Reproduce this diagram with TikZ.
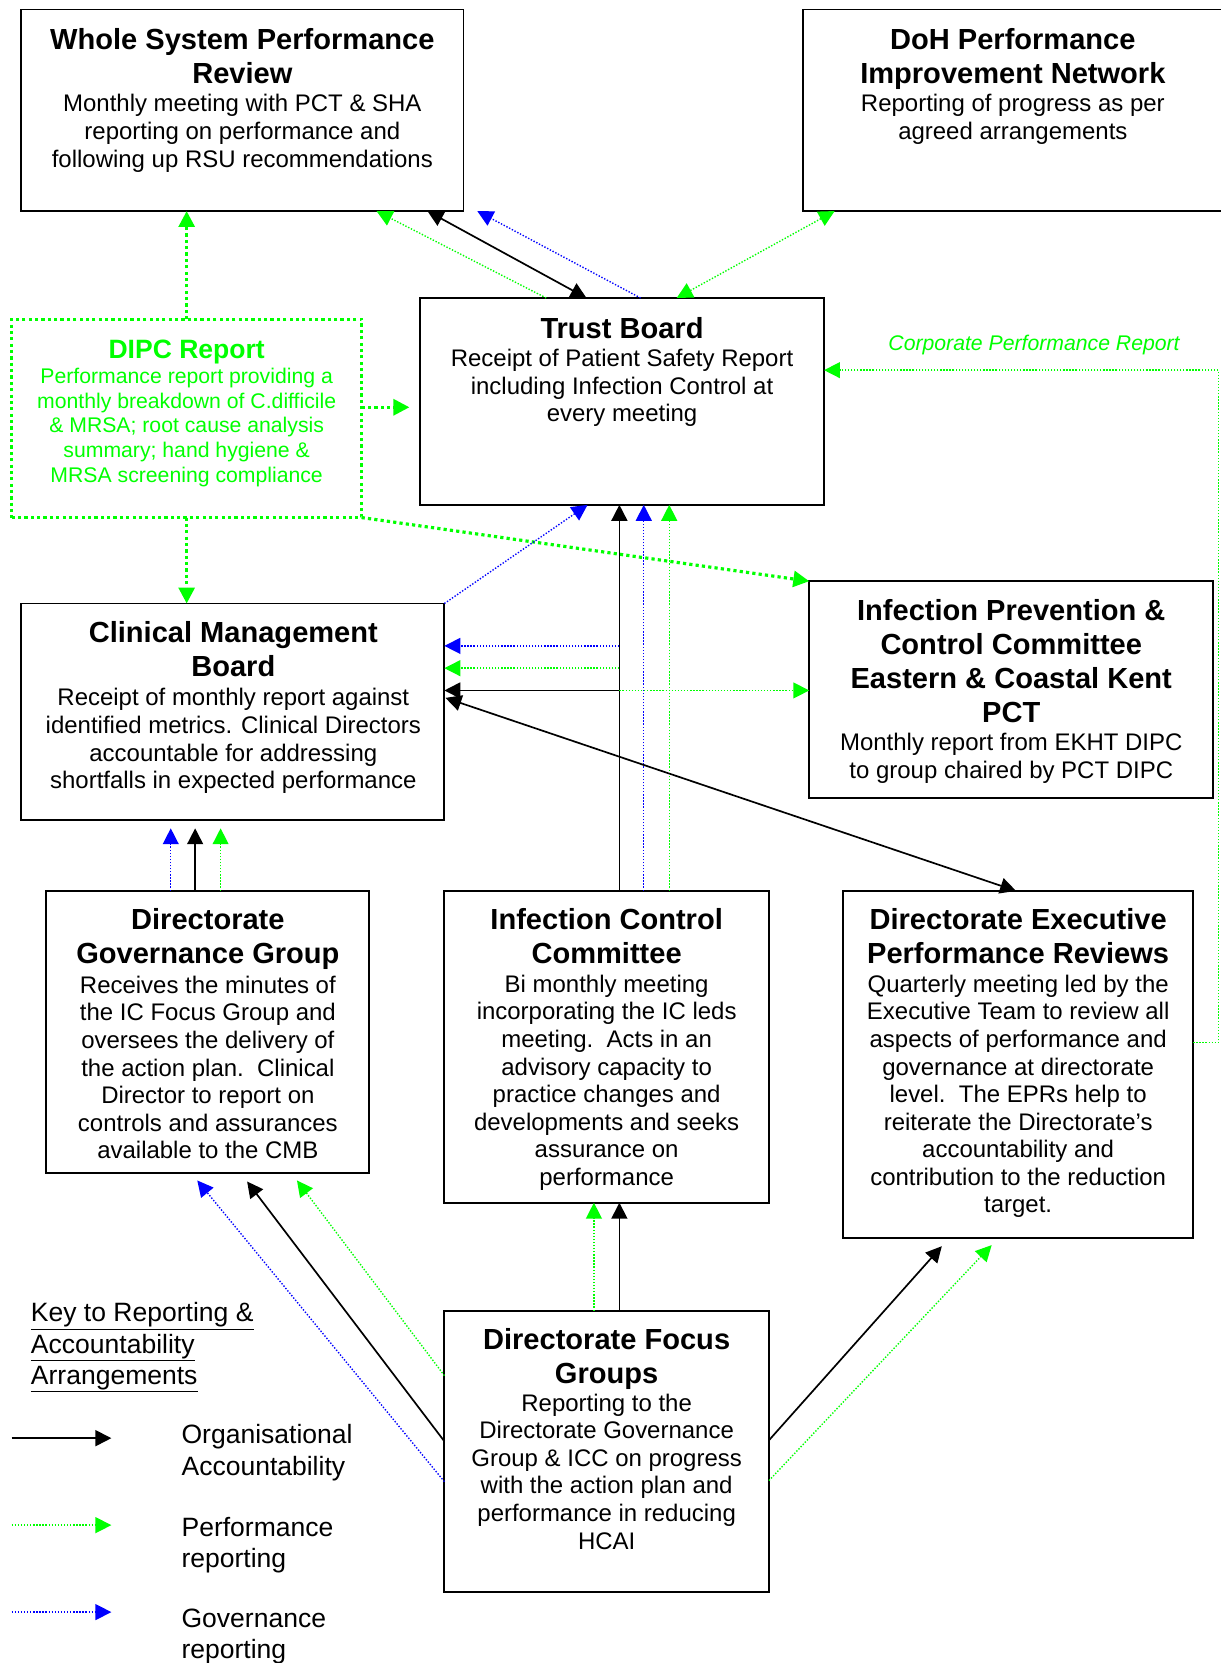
\documentclass[tikz,border=0pt]{standalone}
\usepackage{fontspec}
\setmainfont{Liberation Sans}
\usetikzlibrary{arrows.meta,calc}
\definecolor{perfgreen}{RGB}{0,255,0}
\definecolor{govblue}{RGB}{0,0,255}
\begin{document}
\begin{tikzpicture}[x=1pt,y=-1pt,
  box/.style={draw=black,line width=1.8pt,inner sep=0pt,outer sep=0pt},
  dipcbox/.style={draw=perfgreen,line width=3pt,dash pattern=on 3pt off 3pt,inner sep=0pt,outer sep=0pt},
  ttl/.style={anchor=north,align=center,inner sep=0pt,font=\fontsize{27.4}{32}\selectfont\bfseries},
  bdy/.style={anchor=north,align=center,inner sep=0pt,font=\fontsize{22.6}{26}\selectfont},
  keytext/.style={anchor=north west,align=left,inner sep=0pt,font=\fontsize{25}{29.5}\selectfont},
  tip/.style={-{Triangle[length=15pt,width=15pt]}},
  tips/.style={{Triangle[length=15pt,width=15pt]}-{Triangle[length=15pt,width=15pt]}},
  org/.style={draw=black,line width=1.6pt},
  perf/.style={draw=perfgreen,line width=1.3pt,dash pattern=on 1.3pt off 1.6pt},
  gov/.style={draw=govblue,line width=1.3pt,dash pattern=on 1.3pt off 1.6pt},
  dipcline/.style={draw=perfgreen,line width=3pt,dash pattern=on 3pt off 3pt},
]
\useasboundingbox (0,0) rectangle (1151,1568);

% ---------- boxes ----------
\node[box,minimum width=417pt,minimum height=190pt] (wspr) at (228.5,104) {};
\node[box,minimum width=398pt,minimum height=190pt] (doh)  at (956,104) {};
\node[box,minimum width=381pt,minimum height=195pt] (tb)   at (586.5,378.5) {};
\node[dipcbox,minimum width=330pt,minimum height=187pt] (dipc) at (176,394.5) {};
\node[box,minimum width=399pt,minimum height=204pt] (cmb)  at (219.5,671) {};
\node[box,minimum width=381pt,minimum height=204pt] (ipcc) at (953.5,650) {};
\node[box,minimum width=305pt,minimum height=266pt] (dgg)  at (195.5,973) {};
\node[box,minimum width=306pt,minimum height=294pt] (icc)  at (572,987) {};
\node[box,minimum width=330pt,minimum height=327pt] (depr) at (960,1003.5) {};
\node[box,minimum width=306pt,minimum height=265pt] (dfg)  at (572,1368.5) {};

% ---------- box texts ----------
\node[ttl] (wspr-t) at ($(wspr.north)+(0,18)$) {Whole System Performance\\Review};
\node[bdy] (wspr-b) at ($(wspr.north)+(0,80)$) {Monthly meeting with PCT \& SHA\\reporting on performance and\\following up RSU recommendations};

\node[ttl] (doh-t) at ($(doh.north)+(-1,18)$) {DoH Performance\\Improvement Network};
\node[bdy] (doh-b) at ($(doh.north)+(-1,80)$) {Reporting of progress as per\\agreed arrangements};

\node[ttl] (tb-t) at ($(tb.north)+(0,18)$) {Trust Board};
\node[bdy] (tb-b) at ($(tb.north)+(0,48)$) {Receipt of Patient Safety Report\\including Infection Control at\\every meeting};

\node[anchor=north,align=center,inner sep=0pt,text=perfgreen,font=\fontsize{25}{29}\selectfont\bfseries] (dipc-t) at ($(dipc.north)+(0,19)$) {DIPC Report};
\node[anchor=north,align=center,inner sep=0pt,text=perfgreen,font=\fontsize{20}{23.2}\selectfont] (dipc-b) at ($(dipc.north)+(0,46)$) {Performance report providing a\\monthly breakdown of C.difficile\\\& MRSA; root cause analysis\\summary; hand hygiene \&\\MRSA screening compliance};

\node[ttl] (cmb-t) at ($(cmb.north)+(0.5,17)$) {Clinical Management\\Board};
\node[bdy] (cmb-b) at ($(cmb.north)+(0.5,80)$) {Receipt of monthly report against\\identified metrics. Clinical Directors\\accountable for addressing\\shortfalls in expected performance};

\node[ttl] (ipcc-t) at ($(ipcc.north)+(0,17)$) {Infection Prevention \&\\Control Committee\\Eastern \& Coastal Kent\\PCT};
\node[bdy] (ipcc-b) at ($(ipcc.north)+(0,143)$) {Monthly report from EKHT DIPC\\to group chaired by PCT DIPC};

\node[ttl] (dgg-t) at ($(dgg.north)+(0.5,16)$) {Directorate\\Governance Group};
\node[bdy] (dgg-b) at ($(dgg.north)+(0.5,80)$) {Receives the minutes of\\the IC Focus Group and\\oversees the delivery of\\the action plan.\ \ Clinical\\Director to report on\\controls and assurances\\available to the CMB};

\node[ttl] (icc-t) at ($(icc.north)+(0,16)$) {Infection Control\\Committee};
\node[bdy] (icc-b) at ($(icc.north)+(0,79)$) {Bi monthly meeting\\incorporating the IC leds\\meeting.\ \ Acts in an\\advisory capacity to\\practice changes and\\developments and seeks\\assurance on\\performance};

\node[ttl] (depr-t) at ($(depr.north)+(0,16)$) {Directorate Executive\\Performance Reviews};
\node[bdy] (depr-b) at ($(depr.north)+(0,79)$) {Quarterly meeting led by the\\Executive Team to review all\\aspects of performance and\\governance at directorate\\level.\ \ The EPRs help to\\reiterate the Directorate’s\\accountability and\\contribution to the reduction\\target.};

\node[ttl] (dfg-t) at ($(dfg.north)+(0,16)$) {Directorate Focus\\Groups};
\node[bdy] (dfg-b) at ($(dfg.north)+(0,78)$) {Reporting to the\\Directorate Governance\\Group \& ICC on progress\\with the action plan and\\performance in reducing\\HCAI};

% ---------- DIPC report flows ----------
\coordinate (dipcE) at ($(dipc.north east)+(0,83)$);
\coordinate (tbW)   at ($(tb.north west)+(-10,103)$);
\draw[dipcline,tip] (dipc.north) -- (dipc.north |- wspr.south);
\draw[dipcline,tip] (dipcE) -- (tbW);
\draw[dipcline,tip] (dipc.south east) -- (ipcc.north west);
\draw[dipcline,tip] (dipc.south) -- (dipc.south |- cmb.north);

% ---------- Trust Board to the top row ----------
\coordinate (tbG1) at ($(tb.north west)+(119,0)$);
\coordinate (tbK1) at ($(tb.north west)+(157,0)$);
\coordinate (tbB1) at ($(tb.north west)+(208,0)$);
\coordinate (tbG2) at ($(tb.north west)+(242,0)$);
\coordinate (wsG)  at ($(wspr.south west)+(335,0)$);
\coordinate (wsK)  at ($(wspr.south west)+(383,0)$);
\coordinate (wsB)  at ($(wspr.south west)+(430,0)$);
\coordinate (dohG) at ($(doh.south west)+(30,0)$);
\draw[perf,tip] (tbG1) -- (wsG);
\draw[org,tips] (wsK) -- (tbK1);
\draw[gov,tip] (tbB1) -- (wsB);
\draw[perf,tips] (tbG2) -- (dohG);

% ---------- CMB to Trust Board ----------
\coordinate (tbB2) at ($(tb.south west)+(158,0)$);
\draw[gov,tip] (cmb.north east) -- (tbB2);

% ---------- ICC to Trust Board, with branches ----------
\coordinate (icK) at ($(icc.north west)+(165,0)$);
\coordinate (icB) at ($(icc.north west)+(188,0)$);
\coordinate (icG) at ($(icc.north west)+(212,0)$);
\draw[org,tip] (icK) -- (icK |- tb.south);
\draw[gov,tip] (icB) -- (icB |- tb.south);
\draw[perf,tip] (icG) -- (icG |- tb.south);

\coordinate (cmbB) at ($(cmb.north east)+(0,40)$);
\coordinate (cmbG) at ($(cmb.north east)+(0,61)$);
\coordinate (cmbK) at ($(cmb.north east)+(0,82)$);
\coordinate (ipccG) at ($(ipcc.north west)+(0,103)$);
\draw[gov,tip] (icK |- cmbB) -- (cmbB);
\draw[perf,tip] (icK |- cmbG) -- (cmbG);
\draw[org,tip] (icK |- cmbK) -- (cmbK);
\draw[perf,tip] (icK |- ipccG) -- (ipccG);

% ---------- CMB and DEPR ----------
\coordinate (cmbD) at ($(cmb.north east)+(1,89)$);
\coordinate (deprT) at ($(depr.north west)+(163,0)$);
\draw[org,tips] (cmbD) -- (deprT);

% ---------- DGG to CMB ----------
\coordinate (cmbLow) at ($(cmb.south)+(0,8)$);
\coordinate (dgB) at ($(dgg.north west)+(118,0)$);
\coordinate (dgK) at ($(dgg.north west)+(141,0)$);
\coordinate (dgG) at ($(dgg.north west)+(165,0)$);
\draw[gov,tip] (dgB) -- (dgB |- cmbLow);
\draw[org,tip] (dgK) -- (dgK |- cmbLow);
\draw[perf,tip] (dgG) -- (dgG |- cmbLow);

% ---------- DFG to DGG ----------
\draw[gov,tip]  ($(dfg.north west)+(0,161)$) -- ($(dgg.south west)+(143,7)$);
\draw[org,tip]  ($(dfg.north west)+(0,123)$) -- ($(dgg.south west)+(190,8)$);
\draw[perf,tip] ($(dfg.north west)+(0,61)$)  -- ($(dgg.south west)+(237,7)$);

% ---------- DFG to ICC ----------
\coordinate (dfG) at ($(dfg.north west)+(141,0)$);
\coordinate (dfK) at ($(dfg.north west)+(165,0)$);
\draw[perf,tip] (dfG) -- (dfG |- icc.south);
\draw[org,tip]  (dfK) -- (dfK |- icc.south);

% ---------- DFG to DEPR ----------
\draw[org,tip]  ($(dfg.north east)+(0,122)$) -- ($(depr.south west)+(93,8)$);
\draw[perf,tip] ($(dfg.north east)+(0,160)$) -- ($(depr.south west)+(140,7)$);

% ---------- Corporate performance report ----------
\coordinate (deprR) at ($(depr.north east)+(0,143)$);
\coordinate (corpX) at ($(depr.north east)+(24,0)$);
\coordinate (tbE)   at ($(tb.north east)+(0,68)$);
\draw[perf,tip] (deprR) -- (corpX |- deprR) -- (corpX |- tbE) -- (tbE);
\node[anchor=base,inner sep=0pt,text=perfgreen,font=\fontsize{20}{23}\selectfont\itshape] (corp) at (975,330.2) {Corporate Performance Report};

% ---------- key ----------
\node[keytext] (key) at (29,1228) {\underline{Key to Reporting \&}\\\underline{Accountability}\\\underline{Arrangements}};

\coordinate (lgK0) at (11,1356);  \coordinate (lgK1) at (105,1356);
\coordinate (lgG0) at (11,1438);  \coordinate (lgG1) at (105,1438);
\coordinate (lgB0) at (11,1520);  \coordinate (lgB1) at (105,1520);
\draw[org,tip]  (lgK0) -- (lgK1);
\draw[perf,tip] (lgG0) -- (lgG1);
\draw[gov,tip]  (lgB0) -- (lgB1);

\node[keytext] (lgKt) at (171,1343) {Organisational\\Accountability};
\node[keytext] (lgGt) at (171,1430) {Performance\\reporting};
\node[keytext] (lgBt) at (171,1517) {Governance\\reporting};
\end{tikzpicture}
\end{document}
